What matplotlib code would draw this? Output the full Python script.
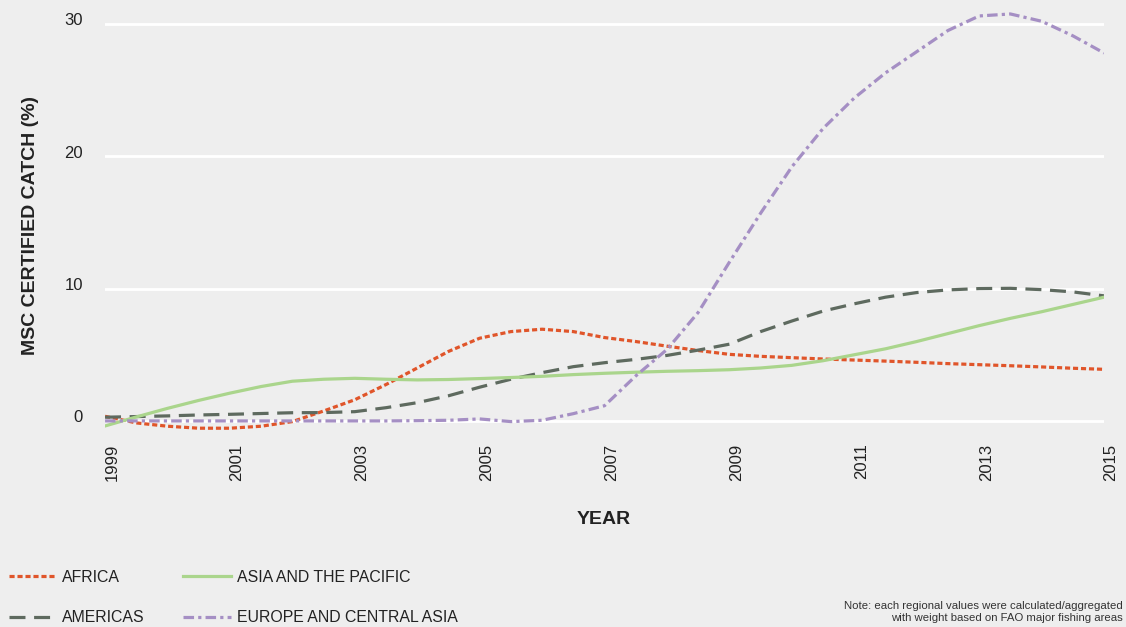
import numpy as np
import matplotlib.pyplot as plt
import matplotlib.transforms as mtransforms

plt.rcParams['font.family'] = ['Liberation Sans', 'DejaVu Sans']

# half-year readings, 1999 .. 2015
years = np.arange(1999, 2015.01, 0.5)
africa = [0.35, -0.15, -0.4, -0.55, -0.55, -0.4, -0.05, 0.75, 1.6, 2.75, 4.0, 5.25, 6.25, 6.75,
          6.93, 6.75, 6.3, 6.0, 5.65, 5.32, 5.03, 4.88, 4.78, 4.68, 4.6, 4.52, 4.43, 4.33,
          4.25, 4.17, 4.08, 3.98, 3.9]
americas = [0.28, 0.33, 0.38, 0.45, 0.5, 0.56, 0.62, 0.63, 0.7, 1.0, 1.38, 1.9, 2.55, 3.15,
            3.65, 4.1, 4.4, 4.65, 4.95, 5.35, 5.8, 6.75, 7.55, 8.3, 8.85, 9.35, 9.7, 9.9,
            10.0, 10.02, 9.92, 9.75, 9.45]
asia = [-0.38, 0.3, 0.95, 1.55, 2.1, 2.6, 3.0, 3.15, 3.22, 3.15, 3.1, 3.13, 3.2, 3.28,
        3.37, 3.5, 3.6, 3.68, 3.75, 3.8, 3.87, 4.0, 4.2, 4.55, 5.0, 5.45, 6.0, 6.6,
        7.2, 7.75, 8.25, 8.8, 9.35]
europe = [0.0, 0.0, 0.0, 0.0, 0.0, 0.0, 0.0, 0.0, 0.0, 0.0, 0.02, 0.05, 0.15, -0.05,
          0.05, 0.55, 1.15, 3.4, 5.4, 8.2, 12.0, 15.7, 19.2, 22.1, 24.4, 26.3, 27.9, 29.5,
          30.6, 30.75, 30.2, 29.1, 27.8]

bg = '#eeeeee'
fig = plt.figure(figsize=(11.26, 6.27), dpi=100, facecolor=bg)
ax = fig.add_axes([0.0933, 0.297, 0.8872, 0.686], facecolor=bg)

lw = 2.3
ax.plot(years, africa, color='#e0552a', lw=lw, dashes=(1.6, 0.9), label='AFRICA')
ax.plot(years, americas, color='#5e6a5f', lw=lw, dashes=(5, 2.7), label='AMERICAS')
ax.plot(years, asia, color='#aad58c', lw=lw, label='ASIA AND THE PACIFIC')
ax.plot(years, europe, color='#a58fc4', lw=lw, dashes=(3.3, 1.3, 1, 1.3), label='EUROPE AND CENTRAL ASIA')

ax.set_xlim(1999, 2015)
ax.set_ylim(-1.5, 31)
ax.set_yticks([0, 10, 20, 30])
ax.set_xticks(range(1999, 2016, 2))
ax.set_xticklabels([str(y) for y in range(1999, 2016, 2)], rotation=90)
ax.yaxis.grid(True, color='white', lw=2)
ax.set_axisbelow(True)
for s in ax.spines.values():
    s.set_visible(False)
ax.tick_params(length=0, labelsize=12, colors='#222222')
ax.tick_params(axis='y', pad=16)
ax.tick_params(axis='x', pad=2)

# small nudges to match label placement
dx = mtransforms.ScaledTranslation(0.07, 0, fig.dpi_scale_trans)
for lab in ax.get_xticklabels():
    lab.set_transform(lab.get_transform() + dx)
dy = mtransforms.ScaledTranslation(0, 0.045, fig.dpi_scale_trans)
for lab in ax.get_yticklabels():
    lab.set_transform(lab.get_transform() + dy)

ax.set_ylabel('MSC CERTIFIED CATCH (%)', fontsize=14, fontweight='bold', color='#222222', labelpad=18)
fig.text(0.536, 0.165, 'YEAR', fontsize=14, fontweight='bold', color='#222222', ha='center')

h, l = ax.get_legend_handles_labels()
fig.legend(h, l, ncol=2, loc='lower left', bbox_to_anchor=(-0.005, -0.02), frameon=False,
           fontsize=11.4, handlelength=3.0, labelspacing=1.6, columnspacing=2.4,
           handletextpad=0.4, labelcolor='#222222')

fig.text(0.997, 0.007, 'Note: each regional values were calculated/aggregated\nwith weight based on FAO major fishing areas',
         fontsize=8.2, color='#333333', ha='right', va='bottom', linespacing=1.2)

fig.savefig('out.png', dpi=100, facecolor=bg)
